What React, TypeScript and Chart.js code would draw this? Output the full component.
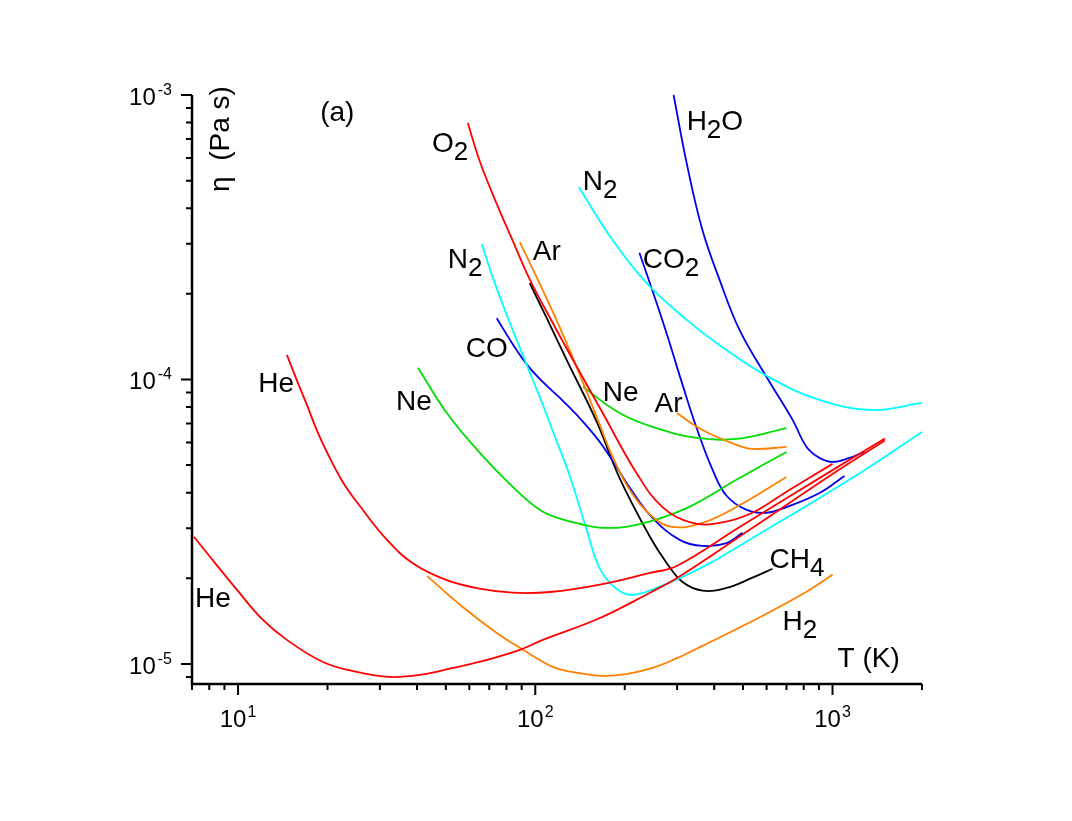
import React, { useEffect, useRef } from 'react';
import { Chart, registerables } from 'chart.js';

Chart.register(...registerables);

// ---- axis ranges ----
const T_MIN = 7;
const T_MAX = 2000;
const ETA_MIN = 8.5e-6;
const ETA_MAX = 1e-3;

// ---- tick values / labels ----
const xMajorTicks = [10, 100, 1000];
const xMajorExp = ['1', '2', '3'];
const xMinorTicks = [7, 8, 9, 20, 30, 40, 50, 60, 70, 80, 90, 200, 300, 400, 500, 600, 700, 800, 900, 2000];
const yMajorTicks = [1e-3, 1e-4, 1e-5];
const yMajorExp = ['-3', '-4', '-5'];
const yMinorTicks = [9e-6, 2e-5, 3e-5, 4e-5, 5e-5, 6e-5, 7e-5, 8e-5, 9e-5, 2e-4, 3e-4, 4e-4, 5e-4, 6e-4, 7e-4, 8e-4, 9e-4];

// ---- series (T in K, eta in Pa s) ----
const heLowT = [7.1, 8.05, 8.9, 9.92, 12.1, 14.6, 19.3, 25.1, 32.4, 40.9, 52.8, 68.7, 88.7, 106, 165, 243, 299, 526, 1000, 1500];
const heLowEta = [2.8e-5, 2.38e-5, 2.09e-5, 1.82e-5, 1.43e-5, 1.215e-5, 1.016e-5, 9.37e-6, 9.0e-6, 9.15e-6, 9.68e-6, 1.033e-5, 1.12e-5, 1.215e-5, 1.45e-5, 1.78e-5, 2.0e-5, 2.96e-5, 4.65e-5, 6.1e-5];

const heHighT = [14.6, 15.8, 17.1, 18.4, 19.9, 22.5, 25.7, 31.7, 38.7, 50.4, 65.0, 83.9, 112, 165, 243, 299, 487, 1000, 1500];
const heHighEta = [1.22e-4, 9.88e-5, 8.07e-5, 6.64e-5, 5.56e-5, 4.36e-5, 3.59e-5, 2.73e-5, 2.26e-5, 1.97e-5, 1.84e-5, 1.78e-5, 1.79e-5, 1.9e-5, 2.09e-5, 2.21e-5, 3.03e-5, 4.8e-5, 6.2e-5];

const o2T = [59.3, 65.0, 74.2, 84.0, 95.8, 114.5, 138, 168.6, 219, 268, 338, 417, 538, 700, 1000];
const o2Eta = [7.97e-4, 5.86e-4, 4.14e-4, 3.07e-4, 2.25e-4, 1.58e-4, 1.107e-4, 7.62e-5, 4.69e-5, 3.56e-5, 3.13e-5, 3.13e-5, 3.4e-5, 4.03e-5, 5.05e-5];

const arT = [88.7, 103.5, 121, 138, 161, 182, 208, 248, 290, 365, 475, 700];
const arEta = [3.04e-4, 2.17e-4, 1.52e-4, 1.1e-4, 7.38e-5, 5.35e-5, 4.09e-5, 3.29e-5, 3.03e-5, 3.13e-5, 3.56e-5, 4.54e-5];

const arGasT = [299, 365, 475, 538, 700];
const arGasEta = [7.62e-5, 6.64e-5, 5.89e-5, 5.7e-5, 5.79e-5];

const neGasT = [144.6, 192, 248, 349, 475, 700];
const neGasEta = [9.42e-5, 7.62e-5, 6.81e-5, 6.23e-5, 6.18e-5, 6.75e-5];

const neT = [40.3, 50.4, 65.1, 84, 103.5, 121, 141, 168.6, 219, 323, 475, 700];
const neEta = [1.1e-4, 7.62e-5, 5.52e-5, 4.19e-5, 3.48e-5, 3.24e-5, 3.11e-5, 3.01e-5, 3.08e-5, 3.53e-5, 4.44e-5, 5.56e-5];

const h2T = [43.2, 57.0, 74.2, 88.7, 114.5, 139, 168.6, 204.6, 248, 301, 365, 538, 793, 1000];
const h2Eta = [2.04e-5, 1.585e-5, 1.285e-5, 1.14e-5, 9.76e-6, 9.3e-6, 9.08e-6, 9.23e-6, 9.68e-6, 1.05e-5, 1.157e-5, 1.415e-5, 1.76e-5, 2.06e-5];

const ch4T = [95.8, 109.4, 128.6, 161, 192, 243, 277, 313, 365, 440, 538, 628];
const ch4Eta = [2.18e-4, 1.64e-4, 1.15e-4, 7.09e-5, 4.51e-5, 2.8e-5, 2.26e-5, 1.94e-5, 1.81e-5, 1.85e-5, 2.01e-5, 2.16e-5];

const n2T = [66.1, 71.9, 80.1, 93.6, 103.5, 114.5, 130.6, 149, 165, 188, 213, 262, 365, 538, 1167, 2000];
const n2Eta = [2.99e-4, 2.29e-4, 1.69e-4, 1.125e-4, 8.68e-5, 6.59e-5, 4.58e-5, 2.96e-5, 2.16e-5, 1.835e-5, 1.75e-5, 1.87e-5, 2.19e-5, 2.77e-5, 4.51e-5, 6.54e-5];

const n2GasT = [140, 182, 237, 323, 417, 600, 904, 1362, 2000];
const n2GasEta = [4.75e-4, 3.09e-4, 2.18e-4, 1.62e-4, 1.32e-4, 1.03e-4, 8.47e-5, 7.81e-5, 8.27e-5];

const coT = [74.2, 84.0, 93.6, 106, 121, 141, 168.6, 208, 248, 306, 365, 440, 498];
const coEta = [1.64e-4, 1.33e-4, 1.13e-4, 9.8e-5, 8.61e-5, 7.32e-5, 5.84e-5, 4.16e-5, 3.26e-5, 2.73e-5, 2.6e-5, 2.66e-5, 2.89e-5];

const co2T = [224, 246, 277, 313, 349, 395, 440, 514, 600, 700, 904, 1097];
const co2Eta = [2.79e-4, 2.1e-4, 1.445e-4, 9.57e-5, 6.75e-5, 4.81e-5, 3.9e-5, 3.48e-5, 3.4e-5, 3.56e-5, 3.99e-5, 4.58e-5];

const h2oT = [292, 323, 365, 417, 487, 600, 734, 818, 904, 1000, 1140, 1281];
const h2oEta = [1.0e-3, 5.77e-4, 3.35e-4, 2.24e-4, 1.49e-4, 1.02e-4, 7.21e-5, 5.79e-5, 5.3e-5, 5.13e-5, 5.3e-5, 5.56e-5];

// ---- curve labels: "_" marks a one-character subscript; anchors in data units (left, baseline) ----
const labelTexts = ['(a)', 'O_2', 'N_2', 'N_2', 'Ar', 'CO', 'CO_2', 'H_2O', 'He', 'He', 'Ne', 'Ne', 'Ar', 'CH_4', 'H_2', 'T (K)'];
const labelT = [18.9, 44.9, 144.4, 50.8, 98.1, 58.4, 229.8, 323, 11.7, 7.17, 34.0, 168.6, 252, 614, 679, 1040];
const labelEta = [8.1e-4, 6.3e-4, 4.63e-4, 2.47e-4, 2.63e-4, 1.2e-4, 2.47e-4, 7.53e-4, 9.04e-5, 1.59e-5, 7.82e-5, 8.4e-5, 7.69e-5, 2.18e-5, 1.32e-5, 9.76e-6];

const yTitle = 'η  (Pa s)';
const yTitleT = 9.33;
const yTitleEta = 7.0e-4;

const RED = '#ff0000';
const ORANGE = '#ff8000';
const GREEN = '#00dd00';
const CYAN = '#00ffff';
const BLUE = '#0000ee';
const BLACK = '#000000';

const FONT = '"Liberation Sans", Arial, Helvetica, sans-serif';

function pts(t: number[], e: number[]) {
  return t.map((v, i) => ({ x: v, y: e[i] }));
}

function drawRich(ctx: CanvasRenderingContext2D, s: string, x: number, y: number) {
  let cx = x;
  let i = 0;
  while (i < s.length) {
    if (s[i] === '_' && i + 1 < s.length) {
      ctx.font = `26px ${FONT}`;
      ctx.fillText(s[i + 1], cx, y + 8);
      cx += ctx.measureText(s[i + 1]).width;
      i += 2;
    } else {
      ctx.font = `28px ${FONT}`;
      ctx.fillText(s[i], cx, y);
      cx += ctx.measureText(s[i]).width;
      i += 1;
    }
  }
}

const decorPlugin = {
  id: 'decor',
  afterDraw(chart: any) {
    const ctx: CanvasRenderingContext2D = chart.ctx;
    const xs = chart.scales.x;
    const ys = chart.scales.y;
    const { left, right, top, bottom } = chart.chartArea;
    ctx.save();
    ctx.strokeStyle = '#000';
    ctx.fillStyle = '#000';
    ctx.lineCap = 'butt';

    // axis lines
    ctx.lineWidth = 2.5;
    ctx.beginPath();
    ctx.moveTo(left, top);
    ctx.lineTo(left, bottom);
    ctx.lineTo(right, bottom);
    ctx.stroke();

    // ticks
    ctx.lineWidth = 2;
    ctx.beginPath();
    xMajorTicks.forEach((v) => {
      const p = xs.getPixelForValue(v);
      ctx.moveTo(p, bottom);
      ctx.lineTo(p, bottom + 11);
    });
    xMinorTicks.forEach((v) => {
      const p = xs.getPixelForValue(v);
      ctx.moveTo(p, bottom);
      ctx.lineTo(p, bottom + 6);
    });
    yMajorTicks.forEach((v) => {
      const p = ys.getPixelForValue(v);
      ctx.moveTo(left, p);
      ctx.lineTo(left - 11, p);
    });
    yMinorTicks.forEach((v) => {
      const p = ys.getPixelForValue(v);
      ctx.moveTo(left, p);
      ctx.lineTo(left - 6, p);
    });
    ctx.stroke();

    // tick labels
    ctx.textBaseline = 'alphabetic';
    ctx.textAlign = 'left';
    const big = `24px ${FONT}`;
    const small = `16px ${FONT}`;
    xMajorTicks.forEach((v, i) => {
      const p = xs.getPixelForValue(v);
      ctx.font = big;
      const w1 = ctx.measureText('10').width;
      ctx.font = small;
      const w2 = ctx.measureText(xMajorExp[i]).width;
      const x0 = p - (w1 + w2 + 1) / 2;
      ctx.font = big;
      ctx.fillText('10', x0, bottom + 43);
      ctx.font = small;
      ctx.fillText(xMajorExp[i], x0 + w1 + 1, bottom + 33);
    });
    yMajorTicks.forEach((v, i) => {
      const p = ys.getPixelForValue(v);
      ctx.font = small;
      const w2 = ctx.measureText(yMajorExp[i]).width;
      ctx.font = big;
      const w1 = ctx.measureText('10').width;
      const xr = left - 20;
      ctx.font = big;
      ctx.fillText('10', xr - w2 - 2 - w1, p + 10);
      ctx.font = small;
      ctx.fillText(yMajorExp[i], xr - w2, p);
    });

    // curve labels
    labelTexts.forEach((s, i) => {
      const x = xs.getPixelForValue(labelT[i]);
      const y = ys.getPixelForValue(labelEta[i]);
      drawRich(ctx, s, x, y);
    });

    // rotated y title
    const tx = xs.getPixelForValue(yTitleT);
    const ty = ys.getPixelForValue(yTitleEta);
    ctx.translate(tx, ty);
    ctx.rotate(-Math.PI / 2);
    ctx.font = `28px ${FONT}`;
    ctx.textAlign = 'center';
    ctx.fillText(yTitle, 0, 0);
    ctx.restore();
  },
};

export default function App() {
  const ref = useRef<HTMLCanvasElement | null>(null);

  useEffect(() => {
    document.body.style.margin = '0';
    const canvas = ref.current;
    if (!canvas) return;
    const mk = (t: number[], e: number[], color: string) => ({
      data: pts(t, e),
      borderColor: color,
      borderWidth: 1.8,
      pointRadius: 0,
      fill: false,
      tension: 0.4,
      clip: false as any,
    });
    const chart = new Chart(canvas, {
      type: 'line',
      data: {
        datasets: [
          mk(heLowT, heLowEta, RED),
          mk(heHighT, heHighEta, RED),
          mk(o2T, o2Eta, RED),
          mk(arT, arEta, ORANGE),
          mk(arGasT, arGasEta, ORANGE),
          mk(h2T, h2Eta, ORANGE),
          mk(neT, neEta, GREEN),
          mk(neGasT, neGasEta, GREEN),
          mk(n2T, n2Eta, CYAN),
          mk(n2GasT, n2GasEta, CYAN),
          mk(coT, coEta, BLUE),
          mk(co2T, co2Eta, BLUE),
          mk(h2oT, h2oEta, BLUE),
          mk(ch4T, ch4Eta, BLACK),
        ] as any,
      },
      options: {
        responsive: false,
        animation: false,
        devicePixelRatio: 1,
        layout: { padding: { top: 95, right: 150, bottom: 0, left: 0 } },
        plugins: { legend: { display: false }, tooltip: { enabled: false } },
        scales: {
          x: {
            type: 'logarithmic',
            min: T_MIN,
            max: T_MAX,
            grid: { display: false },
            border: { display: false },
            ticks: { display: false },
            afterFit: (s: any) => {
              s.height = 137;
            },
          },
          y: {
            type: 'logarithmic',
            min: ETA_MIN,
            max: ETA_MAX,
            grid: { display: false },
            border: { display: false },
            ticks: { display: false },
            afterFit: (s: any) => {
              s.width = 192;
            },
          },
        },
      },
      plugins: [decorPlugin],
    });
    return () => chart.destroy();
  }, []);

  return (
    <div style={{ width: 1072, height: 821, background: '#fff' }}>
      <canvas ref={ref} width={1072} height={821} />
    </div>
  );
}
